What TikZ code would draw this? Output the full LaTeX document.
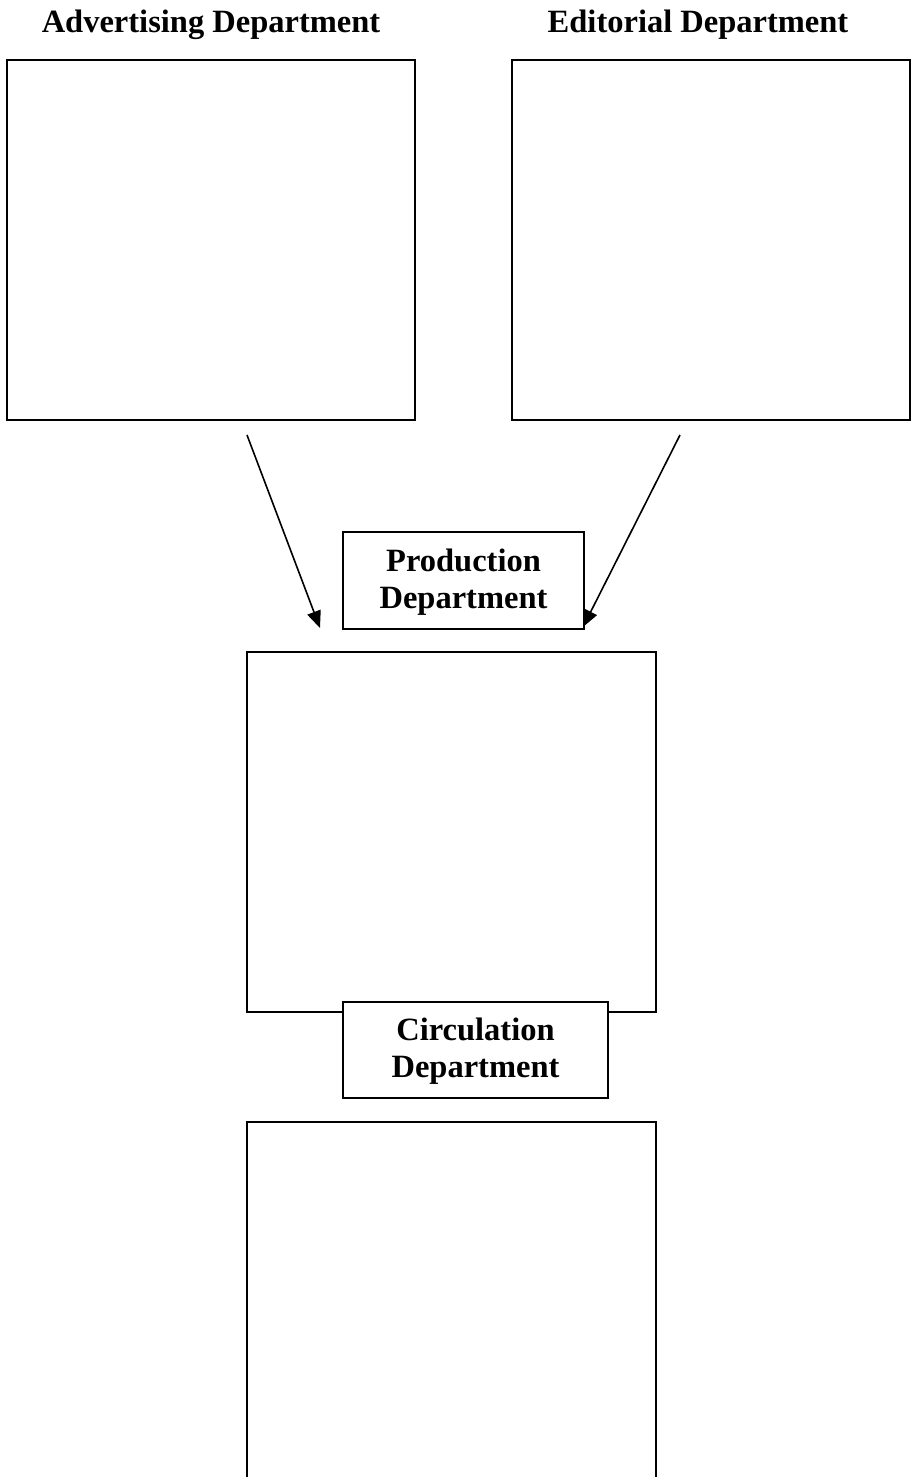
\documentclass[tikz,border=0pt]{standalone}
\usepackage{fontspec}
\setmainfont{Liberation Serif}
\usetikzlibrary{arrows.meta}
\begin{document}
\begin{tikzpicture}[x=1pt,y=-1pt,line width=1.8pt,
  box/.style={draw,rectangle,inner sep=0pt,outer sep=0pt,fill=white},
  title/.style={font=\fontsize{32.5}{37}\selectfont\bfseries,align=center,inner sep=0pt},
  arr/.style={-{Triangle[length=17pt,width=14pt]},line width=1.6pt}]
\useasboundingbox (0,0) rectangle (911,1477);
\node[title] (tadv) at (211,25) {Advertising Department};
\node[title] (tedit) at (698,25) {Editorial Department};
\node[box,minimum width=408pt,minimum height=360pt] (adv) at (211,240) {};
\node[box,minimum width=398pt,minimum height=360pt] (edit) at (711,240) {};
\node[box,minimum width=409pt,minimum height=360pt] (prodbox) at (451.5,832) {};
\node[box,title,minimum width=241pt,minimum height=97pt,text depth=4pt] (prod) at (463.5,580.5) {Production\\Department};
\node[box,title,minimum width=265pt,minimum height=96pt,text depth=4pt] (circ) at (475.5,1050) {Circulation\\Department};
\coordinate (a1) at (247,435);
\coordinate (a2) at (320,628);
\coordinate (b1) at (680,435);
\coordinate (b2) at (583,627);
\draw[arr] (a1) -- (a2);
\draw[arr] (b1) -- (b2);
\coordinate (cbl) at (247,1480);
\coordinate (cbr) at (656,1480);
\coordinate (ctl) at (247,1122);
\coordinate (ctr) at (656,1122);
\draw (cbl) -- (ctl) -- (ctr) -- (cbr);
\end{tikzpicture}
\end{document}
